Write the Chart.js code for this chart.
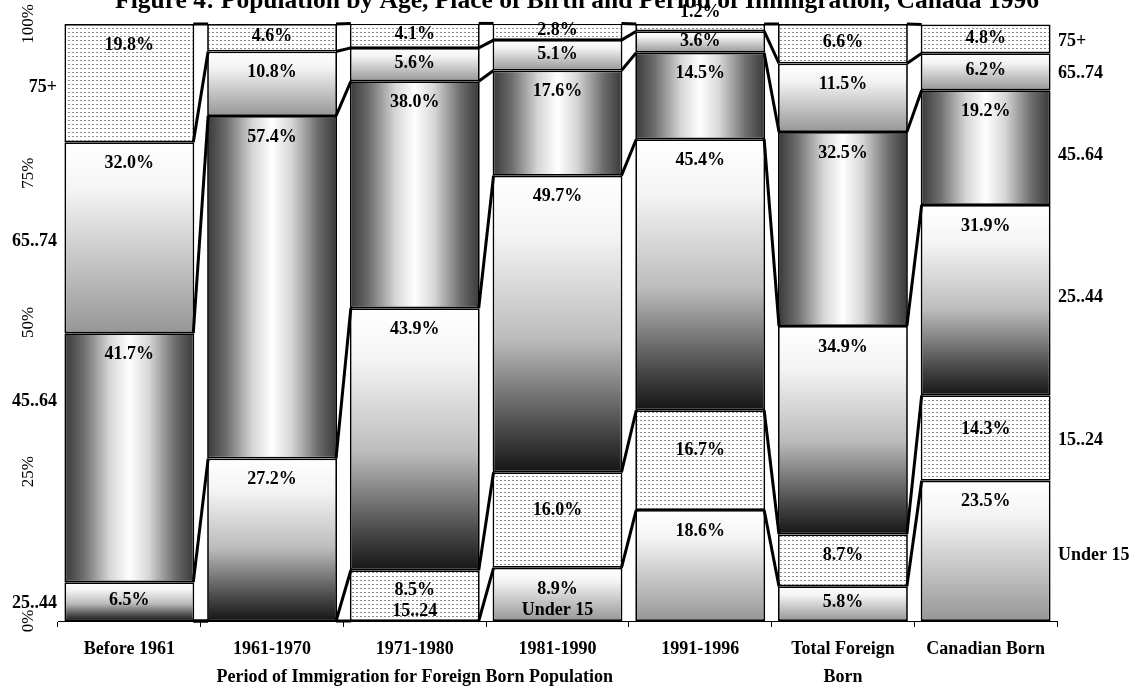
<!DOCTYPE html>
<html>
<head>
<meta charset="utf-8">
<title>Population by Age, Place of Birth and Period of Immigration, Canada 1996</title>
<script src="https://cdn.jsdelivr.net/npm/chart.js@4/dist/chart.umd.min.js"></script>
<style>
  html, body { margin: 0; padding: 0; background: #ffffff; }
  canvas { display: block; }
</style>
</head>
<body>
<canvas id="chart" width="1132" height="689"></canvas>
<script>
// Columns: period of immigration, then the two totals
const categories = ['Before 1961', '1961-1970', '1971-1980', '1981-1990', '1991-1996', ['Total Foreign', 'Born'], 'Canadian Born'];

// Age groups, bottom of the stack first
const ageGroups = ['Under 15', '15..24', '25..44', '45..64', '65..74', '75+'];

// Share of each column's population, in percent
const under15   = [0,    0,    0,    8.9,  18.6, 5.8,  23.5];
const age15to24 = [0,    0,    8.5,  16.0, 16.7, 8.7,  14.3];
const age25to44 = [6.5,  27.2, 43.9, 49.7, 45.4, 34.9, 31.9];
const age45to64 = [41.7, 57.4, 38.0, 17.6, 14.5, 32.5, 19.2];
const age65to74 = [32.0, 10.8, 5.6,  5.1,  3.6,  11.5, 6.2];
const age75plus = [19.8, 4.6,  4.1,  2.8,  1.2,  6.6,  4.8];

const yTicks = [0, 25, 50, 75, 100];

const SERIF = "'Liberation Serif', 'Times New Roman', Times, serif";
const TITLE = 'Figure 4: Population by Age, Place of Birth and Period of Immigration, Canada 1996';
const X_TITLE = 'Period of Immigration for Foreign Born Population';

// fill style for each age group, same order as ageGroups
const fillKinds = ['fadeGrey', 'dots', 'fadeBlack', 'cylinder', 'fadeGrey', 'dots'];

function dotPattern(ctx) {
  const tile = document.createElement('canvas');
  tile.width = 4; tile.height = 4;
  const t = tile.getContext('2d');
  t.fillStyle = '#ffffff';
  t.fillRect(0, 0, 4, 4);
  t.fillStyle = '#8c8c8c';
  t.fillRect(0, 0, 2, 1);
  return ctx.createPattern(tile, 'repeat');
}

function makeFill(ctx, kind, r, pattern) {
  let g;
  if (kind === 'dots') return pattern;
  if (kind === 'cylinder') {
    g = ctx.createLinearGradient(r.left, 0, r.right, 0);
    g.addColorStop(0, '#383838');
    g.addColorStop(0.15, '#6e6e6e');
    g.addColorStop(0.35, '#d6d6d6');
    g.addColorStop(0.5, '#ffffff');
    g.addColorStop(0.65, '#d6d6d6');
    g.addColorStop(0.85, '#6e6e6e');
    g.addColorStop(1, '#383838');
    return g;
  }
  g = ctx.createLinearGradient(0, r.top, 0, Math.max(r.bottom, r.top + 1));
  if (kind === 'fadeBlack') {
    g.addColorStop(0, '#ffffff');
    g.addColorStop(0.2, '#f4f4f4');
    g.addColorStop(0.55, '#bcbcbc');
    g.addColorStop(0.85, '#4a4a4a');
    g.addColorStop(1, '#151515');
  } else {
    g.addColorStop(0, '#ffffff');
    g.addColorStop(0.25, '#f4f4f4');
    g.addColorStop(1, '#969696');
  }
  return g;
}

const seriesData = [under15, age15to24, age25to44, age45to64, age65to74, age75plus];

const decor = {
  id: 'decor',
  beforeDatasetsDraw(chart) {
    const ctx = chart.ctx;
    const pattern = dotPattern(ctx);
    chart.data.datasets.forEach((ds, di) => {
      chart.getDatasetMeta(di).data.forEach(el => {
        const p = el.getProps(['x', 'y', 'base', 'width'], true);
        const r = {
          left: p.x - p.width / 2, right: p.x + p.width / 2,
          top: Math.min(p.y, p.base), bottom: Math.max(p.y, p.base)
        };
        el.options = Object.assign({}, el.options, { backgroundColor: makeFill(ctx, fillKinds[di], r, pattern) });
      });
    });
  },
  afterDatasetsDraw(chart) {
    const ctx = chart.ctx;
    const area = chart.chartArea;
    const metas = chart.data.datasets.map((_, i) => chart.getDatasetMeta(i));

    // series lines joining each age boundary across neighbouring columns
    ctx.save();
    ctx.strokeStyle = '#000000';
    ctx.lineWidth = 3;
    metas.forEach(meta => {
      for (let i = 0; i < meta.data.length - 1; i++) {
        const a = meta.data[i], b = meta.data[i + 1];
        ctx.beginPath();
        ctx.moveTo(a.x + a.width / 2 - 1, a.y);
        ctx.lineTo(b.x - b.width / 2 + 1, b.y);
        ctx.stroke();
      }
    });

    // value labels inside each segment
    ctx.font = 'bold 18px ' + SERIF;
    ctx.fillStyle = '#000000';
    ctx.textAlign = 'center';
    ctx.textBaseline = 'middle';
    chart.data.datasets.forEach((ds, di) => {
      const first = ds.data.findIndex(v => v > 0);
      metas[di].data.forEach((el, i) => {
        const v = ds.data[i];
        if (!(v > 0)) return;
        const top = Math.min(el.y, el.base);
        const h = Math.abs(el.base - el.y);
        let ly;
        if (h < 10) ly = top - 12;
        else if (di === 1) ly = top + 0.4 * h;
        else ly = top + Math.min(21, h / 2 - 1);
        ctx.fillText(v.toFixed(1) + '%', el.x, ly);
        if (i === first && i > 0) ctx.fillText(ds.label, el.x, ly + 21);
      });
    });

    // age group names beside the first and last columns
    const leftNudge = [0, 0, 2, -56, 4, 4];
    const rightNudge = [4, 2, -3, 8, 2, 2];
    chart.data.datasets.forEach((ds, di) => {
      const meta = metas[di];
      if (ds.data[0] > 0) {
        const el = meta.data[0];
        ctx.textAlign = 'right';
        ctx.fillText(ds.label, area.left - 1, (el.y + el.base) / 2 + leftNudge[di]);
      }
      const last = meta.data[meta.data.length - 1];
      ctx.textAlign = 'left';
      ctx.fillText(ds.label, area.right + 1, (last.y + last.base) / 2 + rightNudge[di]);
    });
    ctx.restore();
  },
  afterDraw(chart) {
    const ctx = chart.ctx;
    const x = chart.scales.x;
    ctx.save();
    ctx.fillStyle = '#000000';
    ctx.textAlign = 'center';
    ctx.textBaseline = 'alphabetic';
    ctx.font = 'bold 25.5px ' + SERIF;
    ctx.fillText(TITLE, 577, 8);
    ctx.font = 'bold 18px ' + SERIF;
    ctx.textBaseline = 'middle';
    ctx.fillText(X_TITLE, (x.getPixelForValue(0) + x.getPixelForValue(4)) / 2, 677);
    ctx.restore();
  }
};

new Chart(document.getElementById('chart'), {
  type: 'bar',
  data: {
    labels: categories,
    datasets: seriesData.map((values, i) => ({
      label: ageGroups[i],
      data: values,
      backgroundColor: '#cccccc',
      borderColor: '#000000',
      borderWidth: 1.75,
      borderSkipped: false,
      categoryPercentage: 1,
      barPercentage: 0.91
    }))
  },
  options: {
    responsive: false,
    animation: false,
    events: [],
    layout: { padding: { top: 24, right: 75, bottom: 0, left: 0 } },
    plugins: { legend: { display: false }, tooltip: { enabled: false } },
    scales: {
      x: {
        stacked: true,
        afterFit: s => { s.height = 68; },
        border: { display: true, color: '#000000', width: 1 },
        grid: { offset: true, drawOnChartArea: false, drawTicks: true, tickLength: 6, color: '#000000' },
        ticks: {
          color: '#000000',
          padding: 8,
          maxRotation: 0,
          autoSkip: false,
          font: { family: SERIF, size: 18, weight: 'bold', lineHeight: 1.556 }
        }
      },
      y: {
        stacked: true,
        min: 0,
        max: 100,
        afterFit: s => { s.width = 58; },
        afterBuildTicks: s => { s.ticks = yTicks.map(v => ({ value: v })); },
        border: { display: false },
        grid: { display: false, drawTicks: false },
        ticks: {
          color: '#000000',
          minRotation: 90,
          maxRotation: 90,
          crossAlign: 'center',
          padding: 10,
          callback: v => v + '%',
          font: { family: SERIF, size: 17 }
        }
      }
    }
  },
  plugins: [decor]
});
</script>
</body>
</html>
